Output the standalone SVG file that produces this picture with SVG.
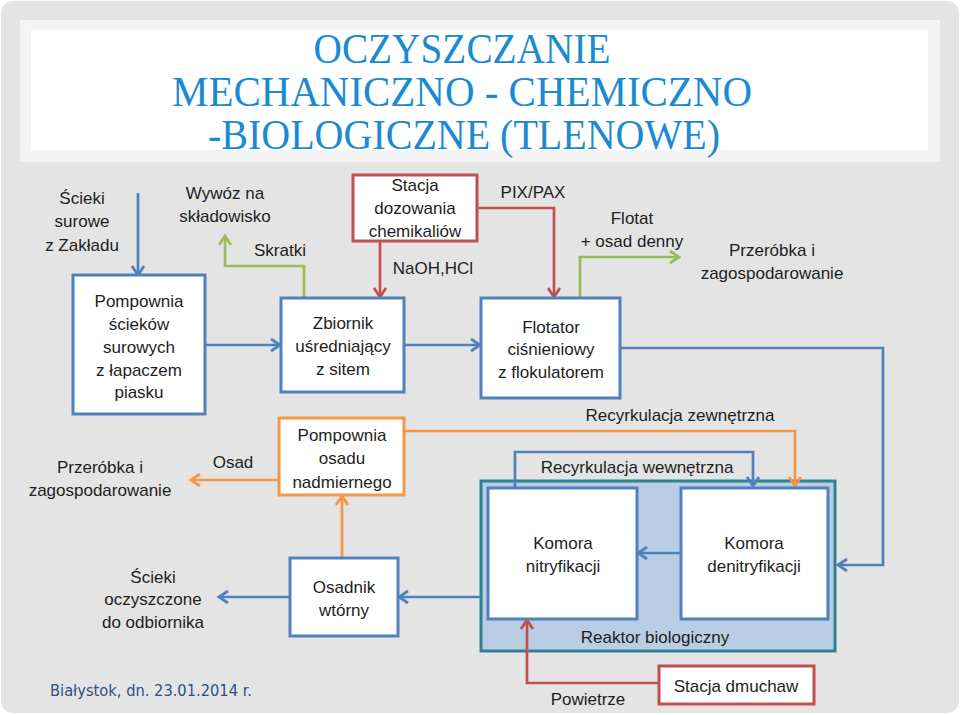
<svg xmlns="http://www.w3.org/2000/svg" width="960" height="715" viewBox="0 0 960 715">
<style>
.t{font-family:"Liberation Sans",Arial,sans-serif;font-size:17px;fill:#1e1e1e;text-anchor:middle}
.ttl{font-family:"Liberation Serif","Times New Roman",serif;font-size:42px;fill:#1a8bd2;text-anchor:middle}
.bb{fill:#fff;stroke:#4f81bd;stroke-width:3}
.rb{fill:#fff;stroke:#c0504d;stroke-width:3}
.ob{fill:#fff;stroke:#f79646;stroke-width:3}
.cb{fill:none;stroke:#4f81bd;stroke-width:2.7}
.cr{fill:none;stroke:#c0504d;stroke-width:2.7}
.cg{fill:none;stroke:#9bbb59;stroke-width:2.7}
.co{fill:none;stroke:#f79646;stroke-width:2.7}
</style>
<defs>
<marker id="ab" markerUnits="userSpaceOnUse" markerWidth="14" markerHeight="16" refX="10" refY="7" orient="auto"><path d="M1,1 L10,7 L1,13" fill="none" stroke="#4f81bd" stroke-width="2.8"/></marker>
<marker id="ar" markerUnits="userSpaceOnUse" markerWidth="14" markerHeight="16" refX="10" refY="7" orient="auto"><path d="M1,1 L10,7 L1,13" fill="none" stroke="#c0504d" stroke-width="2.8"/></marker>
<marker id="ag" markerUnits="userSpaceOnUse" markerWidth="14" markerHeight="16" refX="10" refY="7" orient="auto"><path d="M1,1 L10,7 L1,13" fill="none" stroke="#9bbb59" stroke-width="2.8"/></marker>
<marker id="ao" markerUnits="userSpaceOnUse" markerWidth="14" markerHeight="16" refX="10" refY="7" orient="auto"><path d="M1,1 L10,7 L1,13" fill="none" stroke="#f79646" stroke-width="2.8"/></marker>
</defs>
<rect x="0" y="0" width="960" height="715" fill="#ffffff"/>
<rect x="1" y="1" width="958" height="712" rx="12" fill="#e4e4e4"/>
<rect x="20" y="20" width="920" height="142" fill="#f4f4f4"/>
<rect x="31" y="30" width="897" height="120" fill="#ffffff"/>
<g id="title">
<text class="ttl" x="462" y="63" textLength="297" lengthAdjust="spacingAndGlyphs">OCZYSZCZANIE</text>
<text class="ttl" x="462" y="106" textLength="580" lengthAdjust="spacingAndGlyphs">MECHANICZNO - CHEMICZNO</text>
<text class="ttl" x="464" y="149" textLength="512" lengthAdjust="spacingAndGlyphs">-BIOLOGICZNE (TLENOWE)</text>
</g>
<g id="reaktor">
<rect x="481" y="481" width="354" height="170" fill="#b9cde5" stroke="#2f8093" stroke-width="3"/>
<text class="t" x="655" y="643">Reaktor biologiczny</text>
</g>
<g id="connectors">
<path class="cb" d="M138,193 V275" marker-end="url(#ab)"/>
<path class="cb" d="M205,345 H280" marker-end="url(#ab)"/>
<path class="cb" d="M404,345 H480" marker-end="url(#ab)"/>
<path class="cg" d="M304,298 V266 H225 V236" marker-end="url(#ag)"/>
<path class="cr" d="M380,241 V297" marker-end="url(#ar)"/>
<path class="cr" d="M477,208 H554 V297" marker-end="url(#ar)"/>
<path class="cg" d="M580,298 V257 H679" marker-end="url(#ag)"/>
<path class="cb" d="M620,348 H883 V565 H838" marker-end="url(#ab)"/>
<path class="co" d="M404,431 H795 V486" marker-end="url(#ao)"/>
<path class="cb" d="M515,488 V452 H753 V486" marker-end="url(#ab)"/>
<path class="co" d="M279,480 H191" marker-end="url(#ao)"/>
<path class="co" d="M342,558 V496" marker-end="url(#ao)"/>
<path class="cb" d="M481,597 H399" marker-end="url(#ab)"/>
<path class="cb" d="M290,597 H219" marker-end="url(#ab)"/>
<path class="cb" d="M681,553 H638" marker-end="url(#ab)"/>
<path class="cr" d="M659,683 H527 V620" marker-end="url(#ar)"/>
</g>
<g id="pompownia-sciekow">
<rect class="bb" x="73" y="275" width="132" height="139"/>
<text class="t" x="139" y="307">Pompownia</text>
<text class="t" x="139" y="330">ścieków</text>
<text class="t" x="139" y="353">surowych</text>
<text class="t" x="139" y="376">z łapaczem</text>
<text class="t" x="139" y="398">piasku</text>
</g>
<g id="zbiornik">
<rect class="bb" x="281" y="298" width="123" height="94"/>
<text class="t" x="343" y="329">Zbiornik</text>
<text class="t" x="343" y="352">uśredniający</text>
<text class="t" x="343" y="375">z sitem</text>
</g>
<g id="stacja-dozowania">
<rect class="rb" x="353" y="175" width="124" height="66"/>
<text class="t" x="415" y="191">Stacja</text>
<text class="t" x="415" y="214">dozowania</text>
<text class="t" x="415" y="237">chemikaliów</text>
</g>
<g id="flotator">
<rect class="bb" x="481" y="298" width="139" height="100"/>
<text class="t" x="551" y="333">Flotator</text>
<text class="t" x="551" y="355">ciśnieniowy</text>
<text class="t" x="551" y="378">z flokulatorem</text>
</g>
<g id="pompownia-osadu">
<rect class="ob" x="279" y="418" width="125" height="77"/>
<text class="t" x="342" y="441">Pompownia</text>
<text class="t" x="342" y="464">osadu</text>
<text class="t" x="342" y="488">nadmiernego</text>
</g>
<g id="komora-nitryfikacji">
<rect class="bb" x="488" y="488" width="149" height="131"/>
<text class="t" x="563" y="549">Komora</text>
<text class="t" x="563" y="572">nitryfikacji</text>
</g>
<g id="komora-denitryfikacji">
<rect class="bb" x="681" y="488" width="147" height="131"/>
<text class="t" x="754" y="549">Komora</text>
<text class="t" x="754" y="572">denitryfikacji</text>
</g>
<g id="osadnik">
<rect class="bb" x="290" y="558" width="108" height="78"/>
<text class="t" x="344" y="593">Osadnik</text>
<text class="t" x="344" y="616">wtórny</text>
</g>
<g id="stacja-dmuchaw">
<rect class="rb" x="659" y="666" width="155" height="38"/>
<text class="t" x="736" y="692">Stacja dmuchaw</text>
</g>
<g id="labels">
<text class="t" x="82" y="204">Ścieki</text>
<text class="t" x="82" y="227">surowe</text>
<text class="t" x="82" y="251">z Zakładu</text>
<text class="t" x="225" y="199">Wywóz na</text>
<text class="t" x="225" y="222">składowisko</text>
<text class="t" x="280" y="256">Skratki</text>
<text class="t" x="433" y="274">NaOH,HCl</text>
<text class="t" x="533" y="198">PIX/PAX</text>
<text class="t" x="632" y="224">Flotat</text>
<text class="t" x="632" y="247">+ osad denny</text>
<text class="t" x="772" y="256">Przeróbka  i</text>
<text class="t" x="772" y="279">zagospodarowanie</text>
<text class="t" x="680" y="421">Recyrkulacja zewnętrzna</text>
<text class="t" x="637" y="473">Recyrkulacja wewnętrzna</text>
<text class="t" x="233" y="468">Osad</text>
<text class="t" x="100" y="473">Przeróbka i</text>
<text class="t" x="100" y="496">zagospodarowanie</text>
<text class="t" x="153" y="583">Ścieki</text>
<text class="t" x="153" y="605">oczyszczone</text>
<text class="t" x="153" y="628">do odbiornika</text>
<text class="t" x="588" y="705">Powietrze</text>
<text x="50" y="696" font-family="'DejaVu Sans',sans-serif" font-size="16" fill="#2d5184" textLength="202" lengthAdjust="spacingAndGlyphs">Białystok, dn. 23.01.2014 r.</text>
</g>
</svg>
